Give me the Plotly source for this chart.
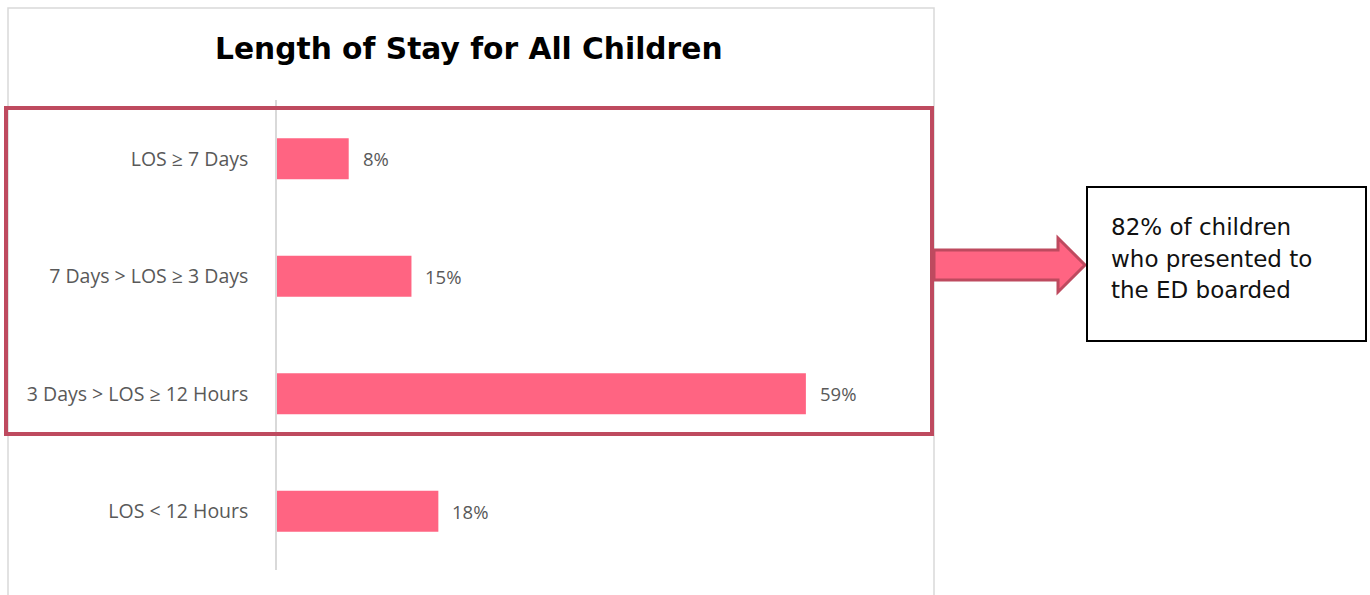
import plotly.graph_objects as go

W, H = 1370, 595

categories = ["LOS ≥ 7 Days", "7 Days > LOS ≥ 3 Days", "3 Days > LOS ≥ 12 Hours", "LOS < 12 Hours"]
values = [8, 15, 59, 18]
value_labels = ["8%", "15%", "59%", "18%"]
title_text = "Length of Stay for All Children"
box_lines = ["82% of children", "who presented to", "the ED boarded"]

BAR = "#FF6482"
MAROON = "#BE4A5F"
GRAY_TXT = "#595959"


def px(x):
    return x / W


def py(y):
    return 1 - y / H


fig = go.Figure()
fig.add_trace(go.Bar(
    x=values, y=categories, orientation="h",
    marker=dict(color=BAR, line=dict(width=0)),
    width=0.35, hoverinfo="skip",
))

for v, c, t in zip(values, categories, value_labels):
    fig.add_annotation(x=v, y=c, xref="x", yref="y", text=t, showarrow=False,
                       xanchor="left", xshift=12,
                       font=dict(family="Open Sans", size=18.5, color=GRAY_TXT))

shapes = []
# outer light chart frame
shapes.append(dict(type="rect", xref="paper", yref="paper",
                   x0=px(8), x1=px(934), y0=py(600), y1=py(8),
                   line=dict(color="#D9D9D9", width=1.5), fillcolor="rgba(0,0,0,0)", layer="below"))
# maroon highlight rectangle
shapes.append(dict(type="rect", xref="paper", yref="paper",
                   x0=px(6), x1=px(932), y0=py(434), y1=py(108),
                   line=dict(color=MAROON, width=4), fillcolor="rgba(0,0,0,0)", layer="above"))
# block arrow
pts = [(934, 250), (1058, 250), (1058, 238), (1085, 265), (1058, 292), (1058, 280), (934, 280)]
path = "M " + " L ".join(f"{px(x)},{py(y)}" for x, y in pts) + " Z"
shapes.append(dict(type="path", xref="paper", yref="paper", path=path,
                   fillcolor=BAR, line=dict(color=MAROON, width=3)))
# text box
shapes.append(dict(type="rect", xref="paper", yref="paper",
                   x0=px(1087), x1=px(1366), y0=py(341), y1=py(187),
                   line=dict(color="#000000", width=2), fillcolor="white"))

for i, line in enumerate(box_lines):
    fig.add_annotation(x=px(1109), y=py(227 + i * 31.5), xref="paper", yref="paper",
                       text=line, showarrow=False, xanchor="left", yanchor="middle",
                       font=dict(family="DejaVu Sans", size=23, color="#111111"))

fig.add_annotation(x=px(469), y=py(48), xref="paper", yref="paper",
                   text=f"<b>{title_text}</b>", showarrow=False,
                   xanchor="center", yanchor="middle",
                   font=dict(family="DejaVu Sans", size=29.7, color="#000000"))

fig.update_layout(
    width=W, height=H,
    margin=dict(l=0, r=0, t=0, b=0),
    paper_bgcolor="white", plot_bgcolor="white",
    showlegend=False,
    shapes=shapes,
    bargap=0.65,
    xaxis=dict(domain=[px(277), px(900)], range=[0, 69.5], visible=False, fixedrange=True),
    yaxis=dict(domain=[py(570), py(100)], categoryorder="array",
               categoryarray=categories[::-1], autorange=True,
               showline=True, linecolor="#D9D9D9", linewidth=1.5,
               showgrid=False, zeroline=False, ticks="", ticklabelstandoff=23,
               tickfont=dict(family="Open Sans", size=19.5, color=GRAY_TXT), fixedrange=True),
)

fig.write_html("out.html")
